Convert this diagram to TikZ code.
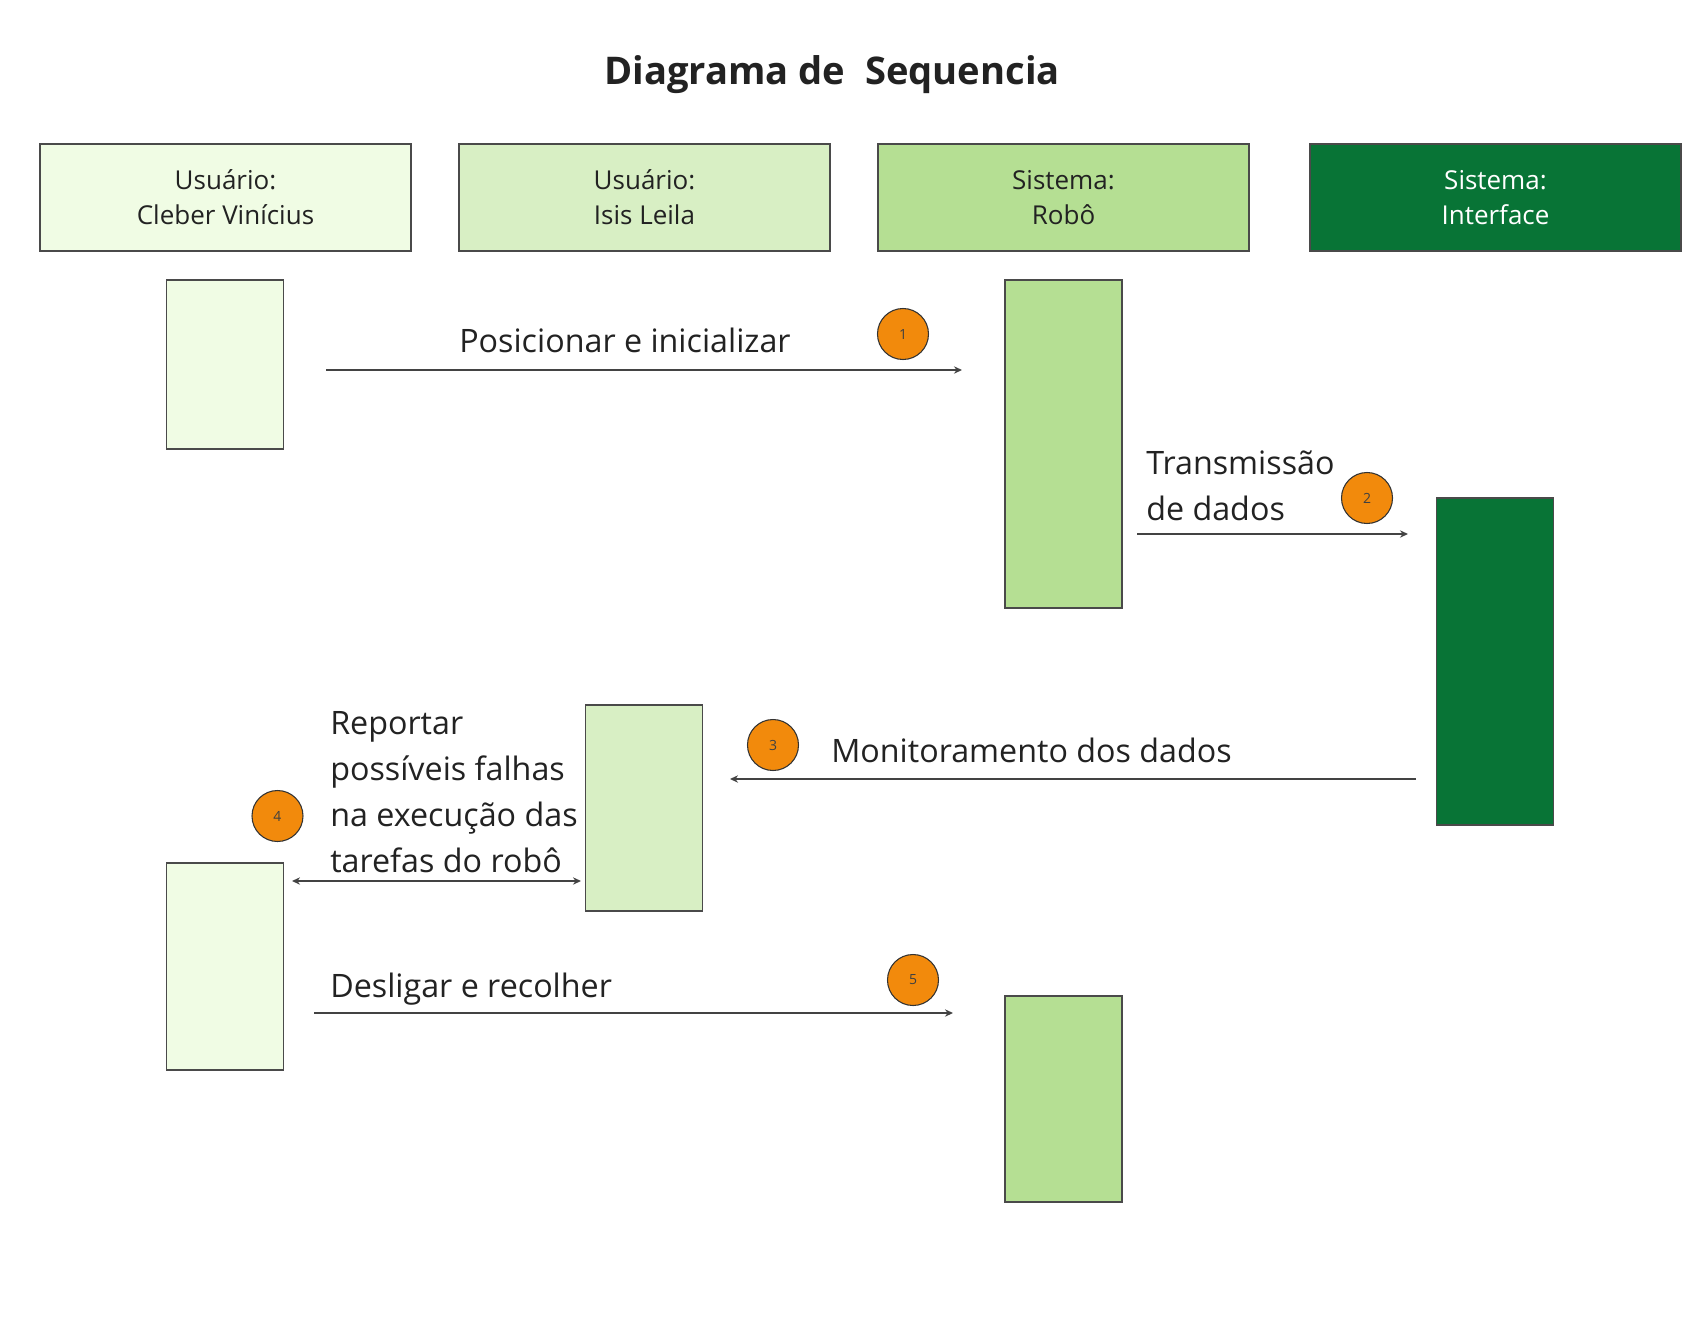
\documentclass[tikz,border=0pt]{standalone}
\usepackage{fontspec}
\setmainfont{Open Sans}
\usetikzlibrary{arrows.meta}
\definecolor{c1}{HTML}{F0FCE4}
\definecolor{c2}{HTML}{D8EFC4}
\definecolor{c3}{HTML}{B5DF93}
\definecolor{c4}{HTML}{087436}
\definecolor{orng}{HTML}{F28A0C}
\definecolor{txt}{HTML}{222222}
\definecolor{edge}{HTML}{4A4A4A}
\begin{document}
\begin{tikzpicture}[x=0.75pt,y=-0.75pt,
  head/.style={draw=edge,line width=1pt,minimum width=278.25pt,minimum height=80.25pt,align=center,font=\fontsize{19.5}{26.25}\selectfont,text=txt,inner sep=0pt},
  act/.style={draw=edge,line width=0.9pt,minimum width=87.75pt,inner sep=0pt},
  msg/.style={draw=txt!85,line width=1pt,-{Stealth[length=6pt,width=5.5pt]}},
  lbl/.style={font=\fontsize{24.2}{34.5}\selectfont,text=txt,inner sep=0pt,anchor=base west,align=left},
  num/.style={circle,draw=black!80,line width=0.8pt,fill=orng,minimum size=38.25pt,inner sep=0pt,font=\fontsize{10.5}{12}\selectfont,text=black!75}]
\useasboundingbox[fill=white] (0,0) rectangle (1696,1325);

\node[font=\bfseries\fontsize{28.6}{32}\selectfont,text=txt,anchor=base,inner sep=0pt] (title) at (832,84) {Diagrama de\ \ Sequencia};

% header boxes
\node[head,fill=c1] (h1) at (225.5,197.5) {Usuário:\\Cleber Vinícius};
\node[head,fill=c2] (h2) at (644.5,197.5) {Usuário:\\Isis Leila};
\node[head,fill=c3] (h3) at (1063.5,197.5) {Sistema:\\Robô};
\node[head,fill=c4,text=white] (h4) at (1495.5,197.5) {Sistema:\\Interface};

% activation boxes
\node[act,fill=c1,minimum height=126.75pt] (a1) at (225,364.5) {};
\node[act,fill=c3,minimum height=246pt] (r1) at (1063.5,444) {};
\node[act,fill=c4,minimum height=245.25pt] (i1) at (1495,661.5) {};
\node[act,fill=c2,minimum height=154.5pt] (l1) at (644,808) {};
\node[act,fill=c1,minimum height=155.25pt] (a2) at (225,966.5) {};
\node[act,fill=c3,minimum height=154.5pt] (r2) at (1063.5,1099) {};

% message end points
\coordinate (m1s) at (326,370);  \coordinate (m1e) at (962,370);
\coordinate (m2s) at (1137,534); \coordinate (m2e) at (1408,534);
\coordinate (m3s) at (1416,779); \coordinate (m3e) at (730,779);
\coordinate (m4s) at (292,881);  \coordinate (m4e) at (581,881);
\coordinate (m5s) at (314,1013); \coordinate (m5e) at (953,1013);

\draw[msg] (m1s) -- (m1e);
\draw[msg] (m2s) -- (m2e);
\draw[msg] (m3s) -- (m3e);
\draw[msg,{Stealth[length=6pt,width=5.5pt]}-{Stealth[length=6pt,width=5.5pt]}] (m4s) -- (m4e);
\draw[msg] (m5s) -- (m5e);

% labels
\node[lbl] (t1) at (459,352) {Posicionar e inicializar};
\node[lbl] (t2) at (1146,520) {Transmissão\\de dados};
\node[lbl] (t3) at (831,762) {Monitoramento dos dados};
\node[lbl] (t4) at (330,872) {Reportar\\possíveis falhas\\na execução das\\tarefas do robô};
\node[lbl] (t5) at (330,997) {Desligar e recolher};

% numbered circles
\node[num] (n1) at (903,334) {1};
\node[num] (n2) at (1367,498) {2};
\node[num] (n3) at (773,745) {3};
\node[num] (n4) at (277.5,816) {4};
\node[num] (n5) at (913,980) {5};
\end{tikzpicture}
\end{document}
